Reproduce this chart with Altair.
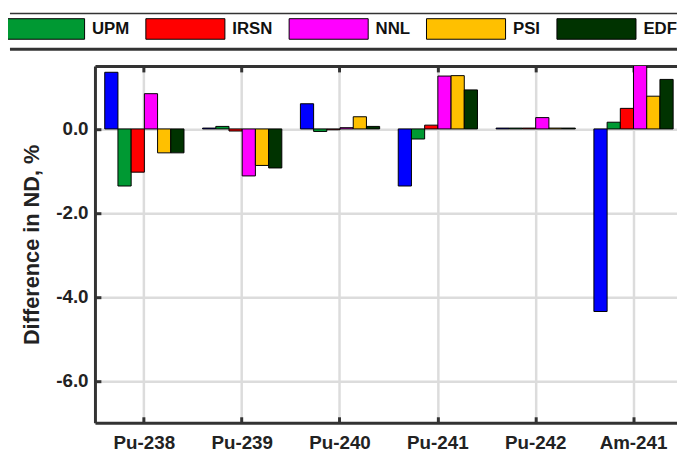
import altair as alt
import pandas as pd

nuclides = ["Pu-238", "Pu-239", "Pu-240", "Pu-241", "Pu-242", "Am-241"]
series = ["ORNL", "UPM", "IRSN", "NNL", "PSI", "EDF"]
colors = ["#0000FF", "#009933", "#FF0000", "#FF00FF", "#FFC000", "#003300"]

ornl = [1.35, 0.02, 0.60, -1.36, 0.02, -4.35]
upm = [-1.36, 0.06, -0.06, -0.24, 0.02, 0.16]
irsn = [-1.03, -0.05, -0.02, 0.09, 0.02, 0.49]
nnl = [0.84, -1.12, 0.03, 1.26, 0.27, 1.60]
psi = [-0.57, -0.87, 0.29, 1.27, 0.02, 0.78]
edf = [-0.57, -0.93, 0.06, 0.93, 0.02, 1.18]
y_ticks = [-6, -4, -2, 0]

vals = [ornl, upm, irsn, nnl, psi, edf]
rows = []
for s, v in zip(series, vals):
    for n, x in zip(nuclides, v):
        rows.append({"nuclide": n, "series": s, "value": x})
df = pd.DataFrame(rows)

FN = "Liberation Sans"
FB = "Liberation Sans"
DARK = "#333333"
GRID = "#dcdcdc"
W, H = 589, 361

xs = alt.Scale(domain=nuclides, range=[0, 595], paddingInner=0.19, paddingOuter=0.1)
ys = alt.Scale(domain=[-7, 1.5], nice=False, zero=False)
xo = alt.XOffset("series:N", sort=series, scale=alt.Scale(domain=series, paddingInner=0, paddingOuter=0))
lab = "(datum.value < 0 ? '-' : '') + format(abs(datum.value), '.1f')"

base = alt.Chart(df)

bars = base.mark_bar(stroke="black", strokeWidth=1, clip=True).encode(
    x=alt.X("nuclide:N", scale=xs, sort=nuclides, title=None,
            axis=alt.Axis(orient="bottom", labelFont=FN, labelFontSize=19, labelFontWeight="bold",
                          labelColor="#222", labelPadding=11, labelAngle=0, ticks=False, tickSize=0,
                          domain=True, domainWidth=3, domainColor=DARK, grid=True, gridColor=GRID,
                          gridWidth=2.5, bandPosition=0.5)),
    xOffset=xo,
    y=alt.Y("value:Q", scale=ys,
            axis=alt.Axis(title="Difference in ND, %", titleFont=FB, titleFontSize=22, titleFontWeight="bold",
                          titleColor="#222", titlePadding=12, values=y_ticks, labelExpr=lab,
                          labelFont=FN, labelFontSize=19, labelFontWeight="bold", labelColor="#222",
                          labelPadding=7, ticks=False, tickSize=0, domain=True, domainWidth=3,
                          domainColor=DARK, grid=True, gridColor=GRID, gridWidth=2.5)),
    color=alt.Color("series:N", scale=alt.Scale(domain=series, range=colors),
                    legend=alt.Legend(orient="none", legendX=-91, legendY=-78, direction="horizontal",
                                      columns=5, values=series[1:], title=None,
                                      symbolType="M-1,-0.26H1V0.26H-1Z", symbolSize=6400,
                                      symbolStrokeColor="black", symbolStrokeWidth=1, symbolOpacity=1,
                                      labelFont=FN, labelFontSize=17, labelFontWeight="bold",
                                      labelColor="#111", labelOffset=7, columnPadding=14, padding=0)),
)

def ghost(xaxis, yaxis):
    return base.mark_bar(opacity=0).encode(
        x=alt.X("nuclide:N", scale=xs, sort=nuclides, title=None, axis=xaxis),
        xOffset=xo,
        y=alt.Y("value:Q", scale=ys, title=None, axis=yaxis),
    )

top_frame = ghost(alt.Axis(orient="top", labels=False, ticks=False, grid=False, domain=True,
                           domainWidth=3, domainColor=DARK), None)
bottom_ticks = ghost(alt.Axis(orient="bottom", offset=-6, labels=False, domain=False, grid=False,
                              ticks=True, tickSize=6, tickWidth=3, tickColor=DARK, bandPosition=0.5), None)
top_ticks = ghost(alt.Axis(orient="top", offset=-6, labels=False, domain=False, grid=False,
                           ticks=True, tickSize=6, tickWidth=3, tickColor=DARK, bandPosition=0.5), None)
left_ticks = ghost(None, alt.Axis(orient="left", offset=-6, labels=False, domain=False, grid=False,
                                  values=y_ticks, ticks=True, tickSize=6, tickWidth=3, tickColor=DARK))

one = alt.Chart(pd.DataFrame({"d": [0]}))
line_top = one.mark_rule(color=DARK, strokeWidth=1.5).encode(
    x=alt.value(-86), x2=alt.value(600), y=alt.value(-53))
line_bot = one.mark_rule(color=DARK, strokeWidth=3).encode(
    x=alt.value(-86), x2=alt.value(600), y=alt.value(-17))

chart = alt.layer(bars, top_frame, bottom_ticks, top_ticks, left_ticks, line_top, line_bot).resolve_axis(
    x="independent", y="independent"
).properties(
    width=W, height=H,
    padding={"left": 88, "top": 56, "right": 0, "bottom": 30},
    autosize=alt.AutoSizeParams(type="none"),
).configure_view(stroke=None).configure(background="white")

chart.save("out.html", embed_options={"renderer": "svg", "actions": False})
